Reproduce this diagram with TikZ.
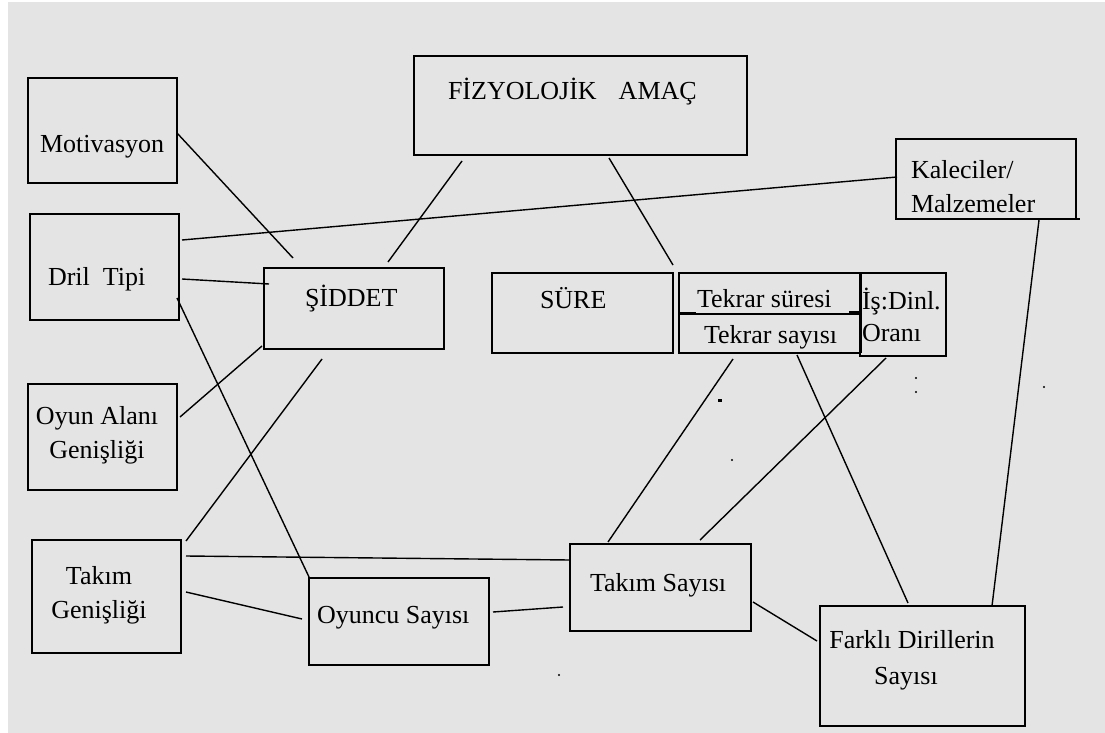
\documentclass[tikz,border=0pt]{standalone}
\usepackage{fontspec}
\setmainfont{Liberation Serif}
\definecolor{bggray}{HTML}{E4E4E4}
\definecolor{ink}{HTML}{000000}
\tikzset{
  box/.style={draw=ink, line width=1.8pt, inner sep=0pt, outer sep=0pt, anchor=north west},
  lbl/.style={inner sep=0pt, outer sep=0pt, text=ink, font=\fontsize{26}{34}\selectfont},
  conn/.style={draw=ink, line width=1.4pt},
  speck/.style={fill=ink}
}
\begin{document}
\begin{tikzpicture}[x=1pt, y=-1pt]
\useasboundingbox (0,0) rectangle (1105,733);
\fill[white] (0,0) rectangle (1105,733);
\fill[bggray] (8,2) rectangle (1105,733);

% boxes
\node[box, minimum width=149pt, minimum height=105pt] (mot) at (28,78) {};
\node[box, minimum width=149pt, minimum height=106pt] (dril) at (30,214) {};
\node[box, minimum width=149pt, minimum height=106pt] (oyun) at (28,384) {};
\node[box, minimum width=149pt, minimum height=113pt] (takg) at (32,540) {};
\node[box, minimum width=180pt, minimum height=81pt] (siddet) at (264,268) {};
\node[box, minimum width=333pt, minimum height=99pt] (fiz) at (414,56) {};
\node[box, minimum width=181pt, minimum height=80pt] (sure) at (492,273) {};
\node[box, minimum width=181pt, minimum height=80pt] (tekrar) at (679,273) {};
\node[box, minimum width=86pt, minimum height=83pt] (isd) at (860,273) {};
\node[box, minimum width=180pt, minimum height=80pt] (kal) at (896,139) {};
\node[box, minimum width=180pt, minimum height=87pt] (oyuncu) at (309,578) {};
\node[box, minimum width=181pt, minimum height=87pt] (taks) at (570,544) {};
\node[box, minimum width=205pt, minimum height=120pt] (farkli) at (820,606) {};

% box details
\draw[ink, line width=1.8pt] (tekrar.west |- 0,314) -- (tekrar.east |- 0,314);
\draw[ink, line width=3pt] (tekrar.north east) -- (tekrar.south east);
\draw[ink, line width=3pt] ([shift={(0,40)}]tekrar.north west) -- ([shift={(17,40)}]tekrar.north west);
\draw[ink, line width=3pt] ([shift={(-11,39)}]tekrar.north east) -- ([shift={(0,39)}]tekrar.north east);
\draw[ink, line width=1.8pt] (kal.south east) -- ++(4,0);

% labels
\node[lbl, anchor=base west] (tfiz) at (448,100) {FİZYOLOJİK\hspace{22pt}AMAÇ};
\node[lbl, anchor=base west] (tmot) at (40,153) {Motivasyon};
\node[lbl, anchor=base west] (tdril) at (48,285) {Dril~ Tipi};
\node[lbl, anchor=base west] (tsid) at (305,306) {ŞİDDET};
\node[lbl, anchor=base west] (tsure) at (540,308) {SÜRE};
\node[lbl, anchor=base west] (ttsur) at (697,307) {Tekrar süresi};
\node[lbl, anchor=base west] (ttsay) at (704,343) {Tekrar sayısı};
\node[lbl, anchor=base west] (tis) at (862,309) {İş:Dinl.};
\node[lbl, anchor=base west] (tora) at (862,341) {Oranı};
\node[lbl, anchor=north west, align=left] (tkal) at (911,160) {Kaleciler/\\Malzemeler};
\node[lbl, anchor=north, align=center] (toyun) at (97,406) {Oyun Alanı\\Genişliği};
\node[lbl, anchor=north, align=center] (ttakg) at (99,566) {Takım\\Genişliği};
\node[lbl, anchor=base west] (toyuncu) at (317,623) {Oyuncu Sayısı};
\node[lbl, anchor=base west] (ttaks) at (590,591) {Takım Sayısı};
\node[lbl, anchor=north, align=center] (tfark) at (912,630) {Farklı Dirillerin\\[2pt]\hspace*{-12pt}Sayısı};

% connectors
\draw[conn] ([shift={(149,55)}]mot.north west) -- ([shift={(29,-10)}]siddet.north west);
\draw[conn] ([shift={(48,105)}]fiz.north west) -- ([shift={(124,-6)}]siddet.north west);
\draw[conn] ([shift={(195,102)}]fiz.north west) -- ([shift={(-6,-8)}]tekrar.north west);
\draw[conn] ([shift={(152,26)}]dril.north west) -- ([shift={(1,38)}]kal.north west);
\draw[conn] ([shift={(152,65)}]dril.north west) -- ([shift={(5,16)}]siddet.north west);
\draw[conn] ([shift={(147,84)}]dril.north west) -- ([shift={(0,-1)}]oyuncu.north west);
\draw[conn] ([shift={(-2,78)}]siddet.north west) -- ([shift={(152,33)}]oyun.north west);
\draw[conn] ([shift={(58,91)}]siddet.north west) -- ([shift={(154,1)}]takg.north west);
\draw[conn] ([shift={(154,16)}]takg.north west) -- ([shift={(0,16)}]taks.north west);
\draw[conn] ([shift={(154,52)}]takg.north west) -- ([shift={(-7,41)}]oyuncu.north west);
\draw[conn] ([shift={(184,34)}]oyuncu.north west) -- ([shift={(-7,63)}]taks.north west);
\draw[conn] ([shift={(38,-2)}]taks.north west) -- ([shift={(54,86)}]tekrar.north west);
\draw[conn] ([shift={(130,-4)}]taks.north west) -- ([shift={(26,85)}]isd.north west);
\draw[conn] ([shift={(118,82)}]tekrar.north west) -- ([shift={(88,-3)}]farkli.north west);
\draw[conn] ([shift={(143,81)}]kal.north west) -- ([shift={(172,0)}]farkli.north west);
\draw[conn] ([shift={(183,58)}]taks.north west) -- ([shift={(-3,35)}]farkli.north west);

% stray specks
\fill[speck] (718,399) rectangle (722,401.5);
\fill[speck] (732,460) circle (1.2pt);
\fill[speck] (1044,387) circle (1.2pt);
\fill[speck] (916,378) circle (1.1pt);
\fill[speck] (916,392) circle (1.1pt);
\fill[speck] (559,675) circle (1.1pt);
\end{tikzpicture}
\end{document}
